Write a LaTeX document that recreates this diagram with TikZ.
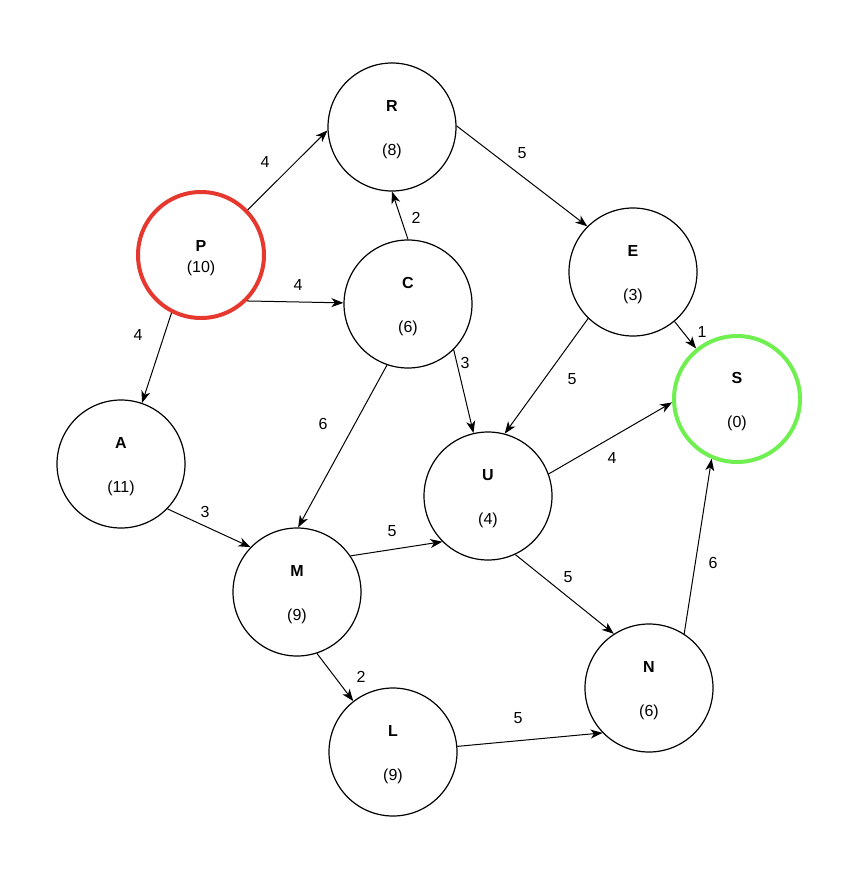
\documentclass[tikz,border=0pt]{standalone}
\usepackage{fontspec}
\setmainfont{Liberation Sans}
\usetikzlibrary{arrows.meta,calc}
\definecolor{startred}{RGB}{230,56,46}
\definecolor{goalgreen}{RGB}{112,240,80}
\begin{document}
\begin{tikzpicture}[x=1pt,y=-1pt,
  state/.style={circle,draw=black,line width=1.2pt,minimum size=128pt,inner sep=0pt},
  startstate/.style={state,draw=startred,line width=4pt,minimum size=126pt},
  goalstate/.style={state,draw=goalgreen,line width=4pt,minimum size=126pt},
  edge/.style={draw=black,line width=1pt,-{Stealth[length=12pt,width=9pt,inset=3.5pt]}},
  txt/.style={font=\fontsize{16}{19}\selectfont,inner sep=1pt},
  nm/.style={font=\bfseries\fontsize{16}{19}\selectfont,inner sep=1pt}]
\useasboundingbox (0,0) rectangle (860,872);

% nodes
\node[state] (R) at (392,127) {};
\node[startstate] (P) at (201,255) {};
\node[state] (C) at (408,304) {};
\node[state] (E) at (633,272) {};
\node[goalstate] (S) at (737,399) {};
\node[state] (A) at (121,464) {};
\node[state] (U) at (488,496) {};
\node[state] (M) at (297,592) {};
\node[state] (N) at (649,688) {};
\node[state] (L) at (393,752) {};

% node texts
\foreach \n/\v in {R/(8),C/(6),E/(3),S/(0),A/(11),U/(4),M/(9),N/(6),L/(9)}{
  \node[nm] (\n-name) at ($(\n)+(0,-21)$) {\n};
  \node[txt] (\n-value) at ($(\n)+(0,24)$) {\v};
}
\node[nm] (P-name) at ($(P)+(0,-9)$) {P};
\node[txt] (P-value) at ($(P)+(0,13)$) {(10)};

% edges
\draw[edge] (P.44) -- (R.183);
\draw[edge] (P.315) -- (C.179);
\draw[edge] (P.243) -- (A.71);
\draw[edge] (C.90) -- (R.270);
\draw[edge] (R.1) -- (E.135);
\draw[edge] (E.310) -- (S.129);
\draw[edge] (C.315) -- (U.103);
\draw[edge] (E.226) -- (U.75);
\draw[edge] (U.20) -- (S.183);
\draw[edge] (N.57) -- (S.247);
\draw[edge] (U.295) -- (N.123);
\draw[edge] (M.34) -- (U.225);
\draw[edge] (M.288) -- (L.128);
\draw[edge] (L.5) -- (N.224);
\draw[edge] (A.316) -- (M.136);
\draw[edge] (C.251) -- (M.89);

% edge labels
\node[txt] (lPR) at (265,162) {4};
\node[txt] (lPC) at (298,285) {4};
\node[txt] (lPA) at (138,335) {4};
\node[txt] (lCR) at (416,218) {2};
\node[txt] (lRE) at (522,153) {5};
\node[txt,fill=white,inner sep=1.5pt] (lES) at (702,332) {1};
\node[txt] (lCU) at (465,363) {3};
\node[txt] (lEU) at (572,379) {5};
\node[txt] (lUS) at (612,458) {4};
\node[txt] (lNS) at (713,563) {6};
\node[txt] (lUN) at (568,577) {5};
\node[txt] (lMU) at (392,531) {5};
\node[txt] (lML) at (361,677) {2};
\node[txt] (lLN) at (518,718) {5};
\node[txt] (lAM) at (205,512) {3};
\node[txt] (lCM) at (323,424) {6};
\end{tikzpicture}
\end{document}
